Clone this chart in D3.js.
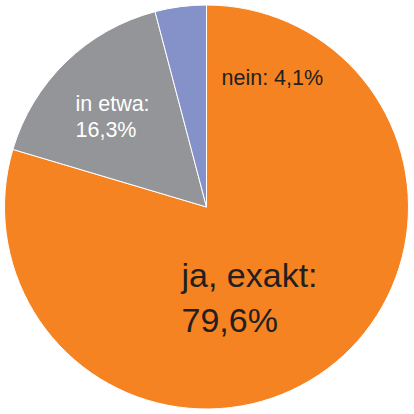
<!DOCTYPE html>
<html>
<head>
<meta charset="utf-8">
<script src="https://cdn.jsdelivr.net/npm/d3@7"></script>
<style>
	html, body { margin: 0; padding: 0; background: #fff; }
	#chart-area { width: 414px; height: 414px; }
	text { font-family: "Liberation Sans", Arial, sans-serif; }
</style>
</head>
<body>
<div id="chart-area"></div>
<script>
const categories = ['ja, exakt:', 'in etwa:', 'nein:'];
const values = [79.6, 16.3, 4.1];
const valueLabels = ['79,6%', '16,3%', '4,1%'];
const colors = ['#f68321', '#939598', '#8591c9'];

window.addEventListener('DOMContentLoaded', () => {

	const width = 414;
	const height = 414;
	const radius = 202;

	const svg = d3.select('#chart-area')
		.append('svg')
		.attr('width', width)
		.attr('height', height);

	const g = svg.append('g')
		.attr('transform', 'translate(206.5, 207)');

	const pie = d3.pie()
		.sort(null)
		.value((d) => d.value);

	const arc = d3.arc()
		.innerRadius(0)
		.outerRadius(radius);

	const data = categories.map((c, i) => ({ name: c, value: values[i], label: valueLabels[i], color: colors[i] }));
	const arcs = pie(data);

	g.selectAll('path')
		.data(arcs)
		.enter()
		.append('path')
		.attr('d', arc)
		.attr('fill', (d) => d.data.color)
		.attr('stroke', '#fff')
		.attr('stroke-width', 1);

	// labels
	// ja, exakt (two lines, large, dark)
	const ja = g.append('text')
		.attr('fill', '#231f20')
		.attr('font-size', 34);
	ja.append('tspan').attr('x', -25).attr('y', 80).text(data[0].name);
	ja.append('tspan').attr('x', -25).attr('y', 125).text(data[0].label);

	// in etwa (two lines, white)
	const etwa = g.append('text')
		.attr('fill', '#fff')
		.attr('font-size', 21.5);
	etwa.append('tspan').attr('x', -131).attr('y', -96).text(data[1].name);
	etwa.append('tspan').attr('x', -131).attr('y', -70).text(data[1].label);

	// nein (one line, dark)
	g.append('text')
		.attr('fill', '#231f20')
		.attr('font-size', 21.5)
		.attr('x', 15)
		.attr('y', -122)
		.text(data[2].name + ' ' + data[2].label);
});
</script>
</body>
</html>
